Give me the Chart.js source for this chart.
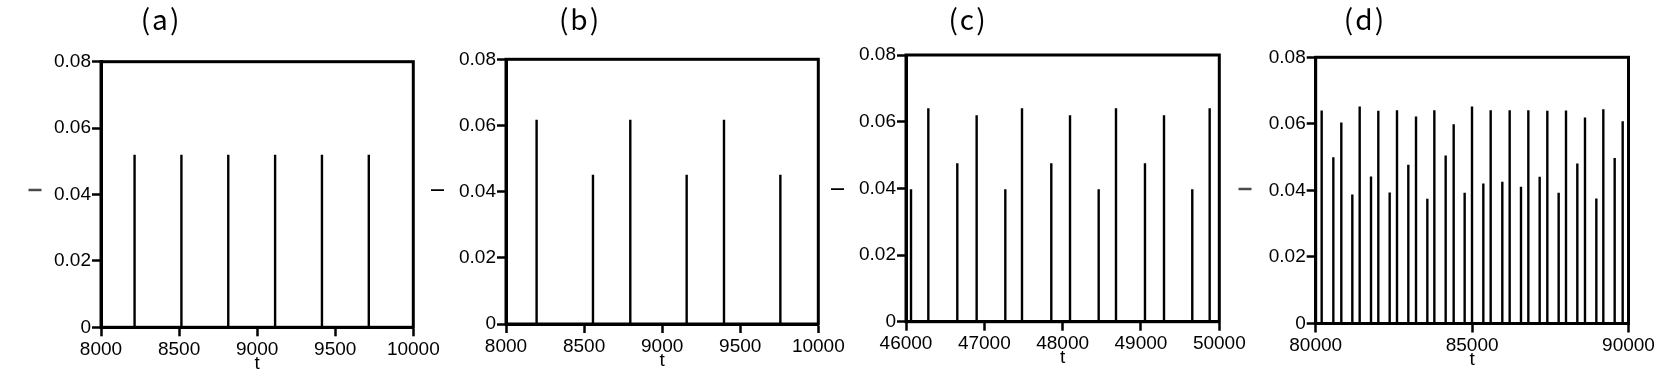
<!DOCTYPE html>
<html><head><meta charset="utf-8">
<script src="https://cdn.jsdelivr.net/npm/chart.js@4.4.0/dist/chart.umd.min.js"></script>
<style>
html,body{margin:0;padding:0;background:#fff;width:1655px;height:380px;overflow:hidden}
#wrap{position:relative;width:1655px;height:380px}
canvas{position:absolute;top:0}
.ptitle{position:absolute;top:0;font-family:"Noto Sans CJK JP","Noto Sans",sans-serif;font-size:28px;letter-spacing:2px;color:#000;transform:translateX(-50%);line-height:36px;white-space:nowrap}
.ylab{position:absolute;font-family:'Liberation Sans',Arial,sans-serif;font-size:19px;line-height:19px;color:#000;transform:translate(-50%,-50%) rotate(-90deg);white-space:nowrap}
</style></head><body>
<div id="wrap"></div>
<script>
// ---- data ----
const panelLabels = ['(a)', '(b)', '(c)', '(d)'];
const yAxisLabel = 'I';
const xAxisLabel = 't';
const yTicks = [0, 0.02, 0.04, 0.06, 0.08];
const yTickLabels = ['0', '0.02', '0.04', '0.06', '0.08'];

const xTicksA = [8000, 8500, 9000, 9500, 10000];
const xTickLabelsA = ['8000', '8500', '9000', '9500', '10000'];
const tA = [8215, 8515, 8815, 9115, 9415, 9715];
const IA = [0.052, 0.052, 0.052, 0.052, 0.052, 0.052];

const xTicksB = [8000, 8500, 9000, 9500, 10000];
const xTickLabelsB = ['8000', '8500', '9000', '9500', '10000'];
const tB = [8196, 8557, 8796, 9157, 9396, 9757];
const IB = [0.0617, 0.0451, 0.0617, 0.0451, 0.0617, 0.0451];

const xTicksC = [46000, 47000, 48000, 49000, 50000];
const xTickLabelsC = ['46000', '47000', '48000', '49000', '50000'];
const tC = [46064, 46285, 46655, 46902, 47268, 47481, 47855, 48094, 48460, 48681, 49051, 49294, 49655, 49877];
const IC = [0.0397, 0.064, 0.0475, 0.0619, 0.0397, 0.064, 0.0475, 0.0619, 0.0397, 0.064, 0.0475, 0.0619, 0.0397, 0.064];

const xTicksD = [80000, 85000, 90000];
const xTickLabelsD = ['80000', '85000', '90000'];
const tD = [80191, 80564, 80819, 81171, 81406, 81768, 82002, 82365, 82599, 82961, 83207, 83569, 83793, 84155, 84411, 84762, 84997,
            85359, 85594, 85966, 86201, 86563, 86798, 87160, 87405, 87767, 88002, 88364, 88609, 88972, 89195, 89558, 89814];
const ID = [0.0640, 0.0500, 0.0604, 0.0388, 0.0652, 0.0442, 0.0639, 0.0394, 0.0641, 0.0477, 0.0622, 0.0375, 0.0641, 0.0505, 0.0599, 0.0393, 0.0652,
            0.0421, 0.0641, 0.0426, 0.0641, 0.0411, 0.0641, 0.0441, 0.0639, 0.0393, 0.0640, 0.0481, 0.0619, 0.0376, 0.0644, 0.0497, 0.0608];

// ---- layout (pixel geometry of each panel; canvases do not overlap) ----
const frames = [
  {cx: 0,    cw: 445, L: 101,    R: 413.3,  T: 61.7, B: 327.3, yLab: 35,   yLabY: 189.5, tx: 161},
  {cx: 445,  cw: 405, L: 506,    R: 818.3,  T: 59.3, B: 324,   yLab: 437,  yLabY: 190,   tx: 580},
  {cx: 850,  cw: 405, L: 906,    R: 1219.3, T: 55,   B: 321.7, yLab: 837,  yLabY: 188.5, tx: 968},
  {cx: 1255, cw: 400, L: 1315.7, R: 1628.5, T: 57.3, B: 323.5, yLab: 1245, yLabY: 188.5, tx: 1365}
];
const FONT = "'Liberation Sans', Arial, sans-serif";
const FS = 19;
const wrap = document.getElementById('wrap');
const charts = [];

// box frame around the plot area (top and right sides)
const framePlugin = {
  id: 'plotFrame',
  afterDraw(chart) {
    const a = chart.chartArea, ctx = chart.ctx;
    ctx.save();
    ctx.strokeStyle = '#000';
    ctx.lineWidth = 3;
    ctx.strokeRect(a.left, a.top, a.right - a.left, a.bottom - a.top);
    ctx.restore();
  }
};

function makeChart(i, xs, ys, xTicks, xTickLabels) {
  const f = frames[i];
  const canvas = document.createElement('canvas');
  canvas.width = f.cw; canvas.height = 380;
  canvas.style.left = f.cx + 'px';
  wrap.appendChild(canvas);
  const half = FS * 1.2 / 2;
  const yW = 50;
  const padLeft = f.L - f.cx - yW;
  const xH = 36.5 + half;
  const xMin = xTicks[0], xMax = xTicks[xTicks.length - 1];

  const div = document.createElement('div');
  div.className = 'ptitle';
  div.style.left = f.tx + 'px';
  div.textContent = panelLabels[i];
  wrap.appendChild(div);

  const yl = document.createElement('div');
  yl.className = 'ylab';
  yl.style.left = f.yLab + 'px';
  yl.style.top = f.yLabY + 'px';
  yl.textContent = yAxisLabel;
  wrap.appendChild(yl);

  const ch = new Chart(canvas, {
    type: 'bar',
    data: {datasets: [{
      data: xs.map((x, k) => ({x: x, y: ys[k]})),
      backgroundColor: '#000', borderWidth: 0, barThickness: 2.4, inflateAmount: 0
    }]},
    plugins: [framePlugin],
    options: {
      responsive: false, animation: false, devicePixelRatio: 1,
      layout: {padding: {left: padLeft, right: f.cx + f.cw - f.R, top: f.T, bottom: 380 - f.B - xH}},
      plugins: {legend: {display: false}, tooltip: {enabled: false}},
      scales: {
        x: {
          type: 'linear', position: 'bottom', min: xMin, max: xMax, offset: false,
          grid: {display: true, drawOnChartArea: false, drawTicks: true, tickLength: 9, tickWidth: 2.5, tickColor: '#000', offset: false},
          border: {display: true, color: '#000', width: 3},
          ticks: {autoSkip: false, maxRotation: 0, minRotation: 0, padding: 2, color: '#000', font: {family: FONT, size: FS},
                  callback: (v) => { const j = xTicks.findIndex(t => Math.abs(t - v) < 1e-6); return j >= 0 ? xTickLabels[j] : ''; }},
          afterBuildTicks: s => { s.ticks = xTicks.map(v => ({value: v})); },
          afterFit: s => { s.height = xH; s.paddingLeft = 0; s.paddingRight = 0; },
          title: {display: true, text: xAxisLabel, color: '#000', font: {family: FONT, size: FS}, padding: 0}
        },
        y: {
          type: 'linear', position: 'left', min: yTicks[0], max: yTicks[yTicks.length - 1],
          grid: {display: true, drawOnChartArea: false, drawTicks: true, tickLength: 9, tickWidth: 2.5, tickColor: '#000'},
          border: {display: true, color: '#000', width: 3},
          ticks: {padding: 1, color: '#000', font: {family: FONT, size: FS},
                  callback: (v) => { const j = yTicks.findIndex(t => Math.abs(t - v) < 1e-9); return j >= 0 ? yTickLabels[j] : ''; }},
          afterBuildTicks: s => { s.ticks = yTicks.map(v => ({value: v})); },
          afterFit: s => { s.width = yW; s.paddingTop = 0; s.paddingBottom = 0; }
        }
      }
    }
  });
  charts.push(ch);
}

makeChart(0, tA, IA, xTicksA, xTickLabelsA);
makeChart(1, tB, IB, xTicksB, xTickLabelsB);
makeChart(2, tC, IC, xTicksC, xTickLabelsC);
makeChart(3, tD, ID, xTicksD, xTickLabelsD);
// redraw once more after fonts settle
if (document.fonts && document.fonts.ready) {
  document.fonts.ready.then(() => charts.forEach(c => c.update('none')));
}
setTimeout(() => charts.forEach(c => c.update('none')), 50);
</script>
</body></html>
